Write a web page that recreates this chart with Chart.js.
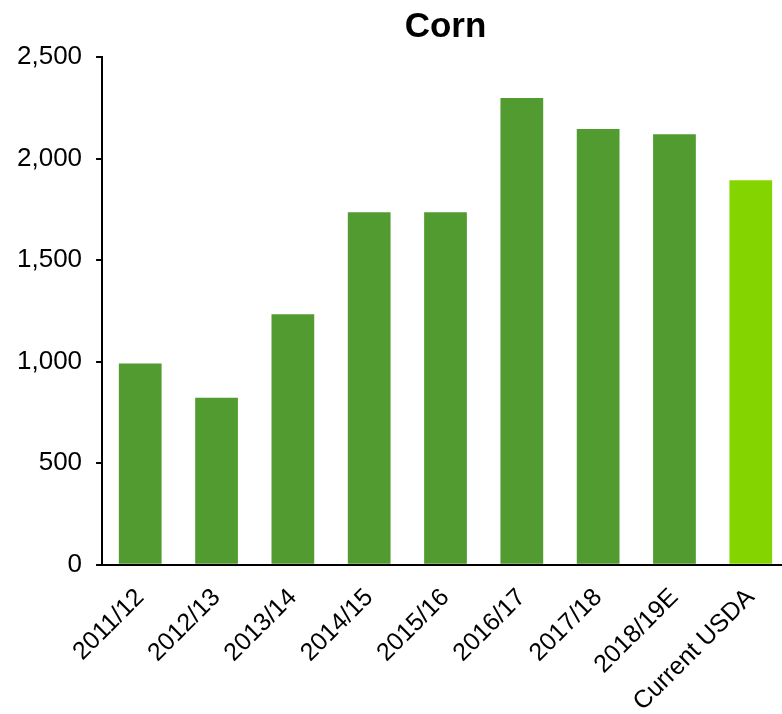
<!DOCTYPE html>
<html>
<head>
<meta charset="utf-8">
<script src="https://cdn.jsdelivr.net/npm/chart.js@4"></script>
<style>
  html, body { margin: 0; padding: 0; background: #fff; overflow: hidden; }
  #wrap { width: 790px; height: 735px; }
</style>
</head>
<body>
<div id="wrap"><canvas id="cornChart"></canvas></div>
<script>
// Corn, by marketing year
const seasons = ["2011/12", "2012/13", "2013/14", "2014/15", "2015/16", "2016/17", "2017/18", "2018/19E", "Current USDA"];
const cornValues = [991, 823, 1233, 1736, 1736, 2298, 2145, 2120, 1893];
const barColors = ["#519b30", "#519b30", "#519b30", "#519b30", "#519b30", "#519b30", "#519b30", "#519b30", "#84d400"];
const yTicks = [0, 500, 1000, 1500, 2000, 2500];

// title centred over the plot area rather than the whole canvas
const plotTitle = {
    id: 'plotTitle',
    afterDraw(chart) {
        const { ctx, chartArea } = chart;
        ctx.save();
        ctx.font = 'bold 35px "Liberation Sans", Arial, sans-serif';
        ctx.fillStyle = '#000';
        ctx.textAlign = 'center';
        ctx.textBaseline = 'alphabetic';
        ctx.fillText('Corn', (chartArea.left + chartArea.right) / 2, 37);
        ctx.restore();
    }
};

const ctx = document.getElementById('cornChart').getContext('2d');
new Chart(ctx, {
    type: 'bar',
    data: {
        labels: seasons,
        datasets: [{
            data: cornValues,
            backgroundColor: barColors,
            barPercentage: 0.56,
            categoryPercentage: 1.0
        }]
    },
    options: {
        responsive: true,
        maintainAspectRatio: false,
        animation: false,
        layout: { padding: { top: 57, left: 3, right: 0, bottom: 0 } },
        plugins: {
            legend: { display: false },
            tooltip: { enabled: false }
        },
        scales: {
            x: {
                grid: { display: true, drawOnChartArea: false, drawTicks: false },
                border: { display: true, color: '#000', width: 2 },
                ticks: {
                    color: '#000',
                    font: { family: '"Liberation Sans", Arial, sans-serif', size: 25 },
                    maxRotation: 45,
                    minRotation: 45,
                    padding: 18
                }
            },
            y: {
                min: 0,
                max: 2500,
                afterBuildTicks(axis) {
                    axis.ticks = yTicks.map(v => ({ value: v }));
                },
                grid: { drawOnChartArea: false, tickLength: 6, color: '#000', lineWidth: 2 },
                border: { display: true, color: '#000', width: 2 },
                ticks: {
                    color: '#000',
                    font: { family: '"Liberation Sans", Arial, sans-serif', size: 26 },
                    padding: 14,
                    callback: v => v.toLocaleString('en-US')
                }
            }
        }
    },
    plugins: [plotTitle]
});
</script>
</body>
</html>
